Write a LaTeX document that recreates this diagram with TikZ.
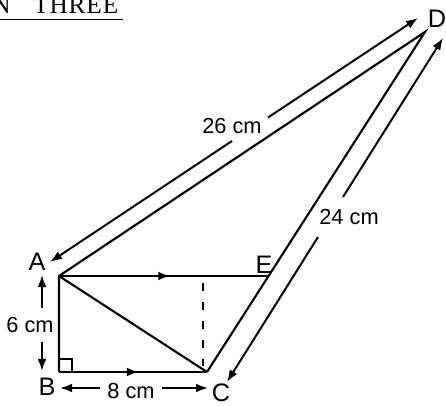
\documentclass[tikz,border=0pt]{standalone}
\usepackage{fontspec}
\setmainfont{Liberation Serif}
\setsansfont{Liberation Sans}
\usetikzlibrary{arrows.meta,calc,decorations.markings}

\begin{document}
\begin{tikzpicture}[
  x=0.025cm, y=-0.025cm,
  edge/.style={line width=1.5pt, black},
  dimline/.style={line width=1.4pt, -{Latex[length=3mm,width=2.2mm]}},
  midarrow/.style={postaction={decorate}, decoration={markings,
      mark=at position #1 with {\arrow{Latex[length=3mm,width=2.2mm]}}}},
  vlabel/.style={font=\sffamily\fontsize{18}{20}\selectfont, inner sep=0pt},
  dimlabel/.style={font=\sffamily\fontsize{15.5}{18}\selectfont, inner sep=0pt},
  heading/.style={font=\fontsize{18}{20}\selectfont, inner sep=0pt, anchor=base west},
]
\useasboundingbox (0,0) rectangle (446,406);

% ── Heading ────────────────────────────────────────────────────────────
\node[heading] (hdr) at (-8,13.5)
  {N\hspace{0.9em}T\hspace{0.6pt}H\hspace{0.6pt}R\hspace{0.6pt}E\hspace{0.6pt}E};
\draw[line width=0.9pt] ($(hdr.base west)+(0,6)$) -- ($(hdr.base east)+(4,6)$);

% ── Vertices ───────────────────────────────────────────────────────────
\coordinate (A) at (59,276);
\coordinate (B) at (59,372);
\coordinate (C) at (207,372);
\coordinate (D) at (425,32);
\coordinate (E) at (269,276);
\coordinate (F1) at (203,283);
\coordinate (F2) at (203,366);

\node[vlabel] (labA) at (37,262) {A};
\node[vlabel] (labB) at (47,387) {B};
\node[vlabel] (labC) at (221,393) {C};
\node[vlabel] (labD) at (437,19)  {D};
\node[vlabel] (labE) at (264,265) {E};

% ── Figure ─────────────────────────────────────────────────────────────
\draw[edge] (B) -- (A) -- (D) -- (C);
\draw[edge, midarrow=0.53] (A) -- (E);
\draw[edge, midarrow=0.54] (B) -- (C);
\draw[edge] (A) -- (C);
\draw[line width=1.1pt, dash pattern=on 5.5pt off 8pt] (F1) -- (F2);
\draw[line width=1.1pt] ($(B)+(0,-13)$) -- ++(13,0) -- ++(0,13);

% ── Dimensions ─────────────────────────────────────────────────────────
\coordinate (ad1) at (50,262);
\coordinate (ad2) at (232,141);
\coordinate (ad3) at (268,117.5);
\coordinate (ad4) at (418,18);
\draw[dimline] (ad2) -- (ad1);
\draw[dimline] (ad3) -- (ad4);
\node[dimlabel] (lab26) at (232,126) {26 cm};

\coordinate (cd1) at (443,38);
\coordinate (cd2) at (343,197);
\coordinate (cd3) at (318,237);
\coordinate (cd4) at (227,382);
\draw[dimline] (cd2) -- (cd1);
\draw[dimline] (cd3) -- (cd4);
\node[dimlabel] (lab24) at (349,217) {24 cm};

\coordinate (ab1) at (42,275);
\coordinate (ab2) at (42,308);
\coordinate (ab3) at (42,342);
\coordinate (ab4) at (42,371);
\draw[dimline] (ab2) -- (ab1);
\draw[dimline] (ab3) -- (ab4);
\node[dimlabel] (lab6) at (30,325) {6 cm};

\coordinate (bc1) at (60,388);
\coordinate (bc2) at (100,388);
\coordinate (bc3) at (162,388);
\coordinate (bc4) at (208,388);
\draw[dimline] (bc2) -- (bc1);
\draw[dimline] (bc3) -- (bc4);
\node[dimlabel] (lab8) at (131,391) {8 cm};

\end{tikzpicture}
\end{document}
